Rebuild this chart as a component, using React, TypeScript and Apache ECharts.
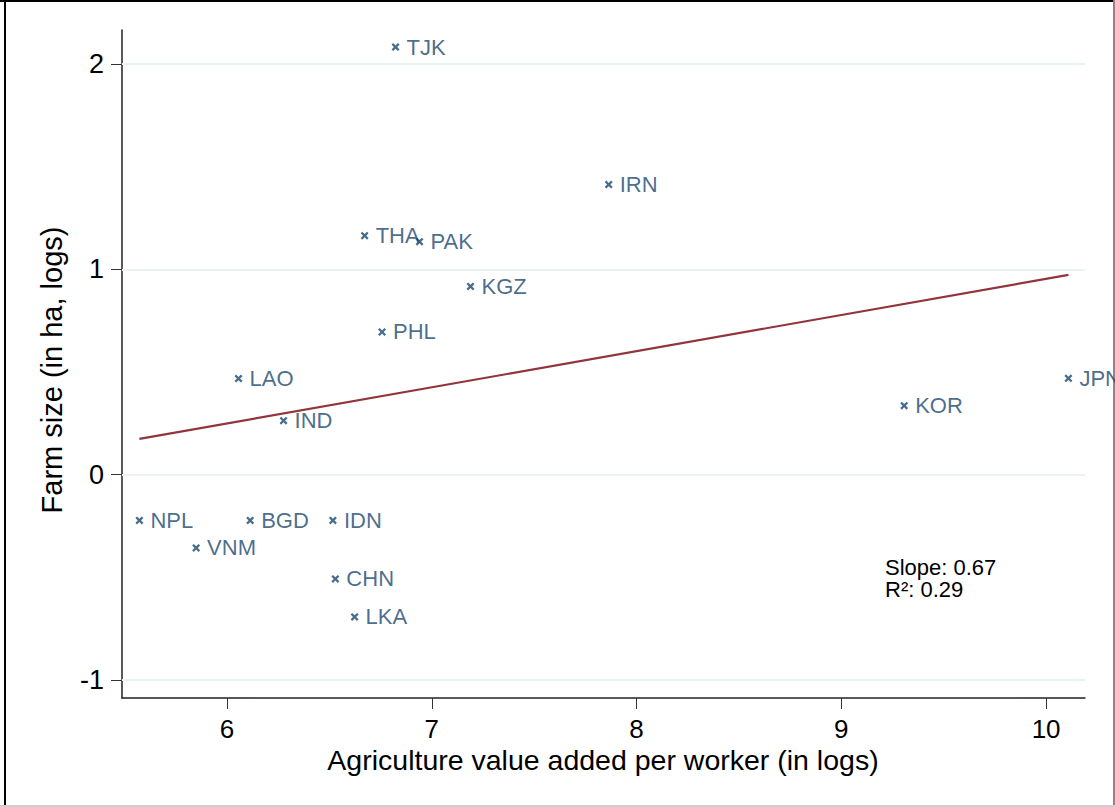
import React, { useEffect, useRef } from "react";
import * as echarts from "echarts";

const countries = ["TJK", "IRN", "THA", "PAK", "KGZ", "PHL", "LAO", "IND", "KOR", "JPN", "NPL", "BGD", "IDN", "VNM", "CHN", "LKA"];
const agValueAdded = [6.823, 7.864, 6.672, 6.94, 7.189, 6.757, 6.056, 6.276, 9.307, 10.109, 5.572, 6.113, 6.517, 5.849, 6.529, 6.623];
const farmSize = [2.083, 1.413, 1.164, 1.135, 0.917, 0.695, 0.468, 0.263, 0.336, 0.469, -0.223, -0.223, -0.223, -0.357, -0.508, -0.693];

const fitX = [5.572, 10.109];
const fitY = [0.174, 0.973];

const xTicks = [6, 7, 8, 9, 10];
const yTicks = [-1, 0, 1, 2];

const statsText = ["Slope: 0.67", "R²: 0.29"];
const xTitle = "Agriculture value added per worker (in logs)";
const yTitle = "Farm size (in ha, logs)";

const FONT = "'Liberation Sans', Arial, Helvetica, sans-serif";
const NAVY = "#1a476f";
const MAROON = "#90353b";
const GRID = "#eaf2f3";

const X_MARK = "path://M0,2L2,0L5,3L8,0L10,2L7,5L10,8L8,10L5,7L2,10L0,8L3,5Z";

export default function App() {
  const ref = useRef<HTMLDivElement>(null);

  useEffect(() => {
    if (!ref.current) return;
    const chart = echarts.init(ref.current, null, { renderer: "svg" });
    const points = countries.map((c, i) => ({ name: c, value: [agValueAdded[i], farmSize[i]] }));

    chart.setOption({
      animation: false,
      backgroundColor: "#ffffff",
      grid: { left: 122, right: 30, top: 30, bottom: 109, containLabel: false },
      xAxis: {
        type: "value",
        min: 5.487,
        max: 10.19,
        axisLine: { show: true, onZero: false, lineStyle: { color: "#222", width: 1.5 } },
        axisTick: { show: true, length: 11, customValues: xTicks, lineStyle: { color: "#333", width: 1 } },
        axisLabel: { customValues: xTicks, fontFamily: FONT, fontSize: 26, color: "#000", margin: 18 },
        splitLine: { show: false },
      },
      yAxis: {
        type: "value",
        min: -1.088,
        max: 2.166,
        axisLine: { show: true, onZero: false, lineStyle: { color: "#222", width: 1.5 } },
        axisTick: { show: true, length: 11, customValues: yTicks, lineStyle: { color: "#333", width: 1 } },
        axisLabel: { customValues: yTicks, fontFamily: FONT, fontSize: 27, color: "#000", margin: 18 },
        splitLine: { show: false },
      },
      series: [
        {
          type: "line",
          data: [],
          silent: true,
          markLine: {
            silent: true,
            symbol: "none",
            label: { show: false },
            lineStyle: { color: GRID, width: 2, type: "solid" },
            data: yTicks.map((v) => ({ yAxis: v })),
          },
        },
        {
          type: "line",
          data: fitX.map((x, i) => [x, fitY[i]]),
          showSymbol: false,
          symbol: "none",
          lineStyle: { color: MAROON, width: 2.2 },
          z: 3,
        },
        {
          type: "scatter",
          data: points,
          symbol: X_MARK,
          symbolSize: 8,
          itemStyle: { color: NAVY },
          z: 4,
          label: {
            show: true,
            position: "right",
            distance: 7,
            formatter: "{b}",
            fontFamily: FONT,
            fontSize: 22,
            color: NAVY,
          },
        },
      ],
      graphic: [
        {
          type: "text",
          x: 603,
          y: 760,
          style: { text: xTitle, font: `28.5px ${FONT}`, fill: "#000", align: "center", verticalAlign: "middle" },
        },
        {
          type: "text",
          x: 52,
          y: 370,
          rotation: Math.PI / 2,
          style: { text: yTitle, font: `29px ${FONT}`, fill: "#000", align: "center", verticalAlign: "middle" },
        },
        {
          type: "text",
          left: 885,
          top: 556,
          style: { text: statsText.join("\n"), font: `22px ${FONT}`, fill: "#000", lineHeight: 22 },
        },
        { type: "rect", shape: { x: 4, y: 0, width: 2, height: 807 }, style: { fill: "#000" } },
        { type: "rect", shape: { x: 0, y: 0, width: 1115, height: 2 }, style: { fill: "#000" } },
        { type: "rect", shape: { x: 1113, y: 0, width: 2, height: 807 }, style: { fill: "#888" } },
        { type: "rect", shape: { x: 0, y: 805, width: 1115, height: 2 }, style: { fill: "#d0d0d0" } },
      ],
    });
    return () => chart.dispose();
  }, []);

  return <div ref={ref} style={{ position: "absolute", left: 0, top: 0, width: 1115, height: 807 }} />;
}
